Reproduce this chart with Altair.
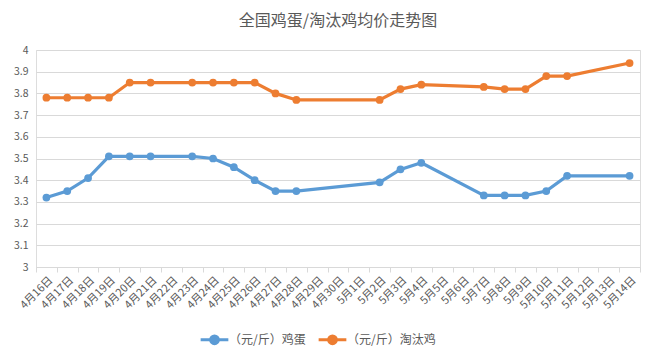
import altair as alt
import pandas as pd

dates = ["4月16日", "4月17日", "4月18日", "4月19日", "4月20日", "4月21日", "4月22日",
         "4月23日", "4月24日", "4月25日", "4月26日", "4月27日", "4月28日", "4月29日",
         "4月30日", "5月1日", "5月2日", "5月3日", "5月4日", "5月5日", "5月6日",
         "5月7日", "5月8日", "5月9日", "5月10日", "5月11日", "5月12日", "5月13日", "5月14日"]

# None = no value on that date (line connects across)
egg = [3.32, 3.35, 3.41, 3.51, 3.51, 3.51, None, 3.51, 3.50, 3.46, 3.40, 3.35, 3.35,
       None, None, None, 3.39, 3.45, 3.48, None, None, 3.33, 3.33, 3.33, 3.35, 3.42,
       None, None, 3.42]
hen = [3.78, 3.78, 3.78, 3.78, 3.85, 3.85, None, 3.85, 3.85, 3.85, 3.85, 3.80, 3.77,
       None, None, None, 3.77, 3.82, 3.84, None, None, 3.83, 3.82, 3.82, 3.88, 3.88,
       None, None, 3.94]

series_names = ["（元/斤）鸡蛋", "（元/斤）淘汰鸡"]
colors = ["#5B9BD5", "#ED7D31"]

rows = []
for name, vals in zip(series_names, [egg, hen]):
    for d, v in zip(dates, vals):
        if v is not None:
            rows.append({"date": d, "price": v, "series": name})
df = pd.DataFrame(rows)

font = "Noto Sans CJK SC"
gray = "#595959"

legend_symbol = "M-1.6,0L1.6,0M-0.45,0A0.45,0.45 0 1,1 0.45,0A0.45,0.45 0 1,1 -0.45,0Z"

base = alt.Chart(df).encode(
    x=alt.X("date:O", sort=dates,
            scale=alt.Scale(type="band", domain=dates, paddingInner=0, paddingOuter=0),
            axis=alt.Axis(title=None, labelAngle=-45, labelFontSize=11, labelColor=gray,
                          labelFont=font, domainColor="#D9D9D9", tickColor="#D9D9D9",
                          tickBand="extent", tickSize=5, grid=False, labelPadding=2)),
    y=alt.Y("price:Q",
            scale=alt.Scale(domain=[3, 4], nice=False, zero=False),
            axis=alt.Axis(title=None, values=[3 + i / 10 for i in range(11)], format="~g",
                          labelFontSize=10.5, labelColor=gray, labelFont=font,
                          domain=False, ticks=False, gridColor="#D9D9D9", labelPadding=8)),
    color=alt.Color("series:N", sort=series_names,
                    scale=alt.Scale(domain=series_names, range=colors),
                    legend=alt.Legend(title=None, orient="none", direction="horizontal",
                                      legendX=168, legendY=279,
                                      labelFont=font, labelFontSize=12, labelColor=gray,
                                      symbolType=legend_symbol, symbolSize=300,
                                      symbolStrokeWidth=3, columnPadding=6,
                                      labelLimit=200)),
)

lines = base.mark_line(strokeWidth=3.2)
points = base.mark_circle(size=60, opacity=1)

chart = (lines + points).properties(
    width=604, height=217,
    title=alt.TitleParams("全国鸡蛋/淘汰鸡均价走势图", font=font, fontSize=16,
                          fontWeight="normal", color=gray, anchor="middle", offset=16),
).configure_view(stroke=None).configure(background="white")

chart.save("out.html", embed_options={"renderer": "svg", "actions": False})
